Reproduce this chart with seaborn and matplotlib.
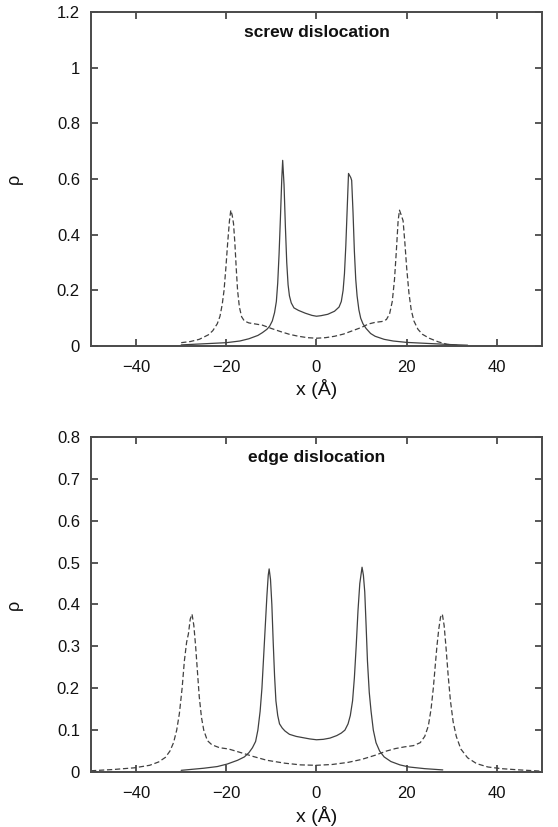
import numpy as np
import pandas as pd
import matplotlib
matplotlib.use("Agg")
import matplotlib.pyplot as plt
import seaborn as sns

# ---- data ----
screw_solid_x = [-30, -25, -20, -17, -15, -13, -12, -11, -10.4, -9.8, -9.3, -8.9, -8.6, -8.3, -8.0, -7.7, -7.5,
                 -7.2, -6.9, -6.6, -6.3, -6.0, -5.6, -5.0, -4.0, -2.5, -1.0, 0.0, 1.0, 2.5, 4.0, 5.0, 5.5, 5.9,
                 6.2, 6.5, 6.8, 7.1, 7.6, 7.8, 8.1, 8.4, 8.7, 9.0, 9.4, 9.8, 10.3, 11, 12, 13, 15, 17, 20, 25,
                 30, 33.5]
screw_solid_y = [0.004, 0.008, 0.012, 0.018, 0.026, 0.038, 0.048, 0.060, 0.071, 0.090, 0.120, 0.160, 0.226,
                 0.330, 0.460, 0.600, 0.667, 0.580, 0.430, 0.300, 0.220, 0.180, 0.155, 0.137, 0.128, 0.118,
                 0.110, 0.107, 0.109, 0.114, 0.125, 0.140, 0.160, 0.200, 0.260, 0.360, 0.490, 0.620, 0.605,
                 0.595, 0.480, 0.340, 0.240, 0.180, 0.130, 0.100, 0.080, 0.063, 0.045, 0.035, 0.024, 0.018,
                 0.013, 0.009, 0.005, 0.003]
screw_dash_x = [-30, -28, -26, -24, -23, -22, -21.4, -20.9, -20.5, -20.1, -19.7, -19.3, -19.0, -18.7, -18.4,
                -18.1, -17.8, -17.5, -17.1, -16.6, -16, -15, -13.5, -12, -10, -8, -6, -4, -2, 0, 2, 4, 6, 8,
                10, 11.5, 13, 14.5, 15.5, 16.2, 16.8, 17.3, 17.7, 18.1, 18.4, 18.8, 19.2, 19.6, 20.0, 20.5,
                21.0, 21.6, 22.5, 23.5, 25, 27, 29, 31.5]
screw_dash_y = [0.012, 0.016, 0.024, 0.040, 0.055, 0.080, 0.107, 0.150, 0.200, 0.280, 0.370, 0.450, 0.488,
                0.470, 0.440, 0.370, 0.280, 0.200, 0.140, 0.105, 0.090, 0.083, 0.079, 0.075, 0.063, 0.052,
                0.042, 0.035, 0.030, 0.028, 0.030, 0.035, 0.043, 0.055, 0.067, 0.079, 0.085, 0.088, 0.095,
                0.115, 0.160, 0.240, 0.340, 0.450, 0.488, 0.470, 0.450, 0.370, 0.280, 0.190, 0.130, 0.090,
                0.060, 0.042, 0.028, 0.015, 0.006, 0.002]

edge_solid_x = [-30, -25, -22, -19.8, -17.5, -16, -15, -14.2, -13.5, -13, -12.5, -12.1, -11.7, -11.3, -11,
                -10.7, -10.5, -10.2, -9.9, -9.6, -9.3, -9.0, -8.6, -8.2, -7.6, -7, -6, -4.5, -3, -1.5, 0, 1.5,
                3, 4.5, 5.5, 6.3, 7, 7.5, 8, 8.4, 8.8, 9.2, 9.6, 10.1, 10.4, 10.7, 11.0, 11.3, 11.7, 12.1,
                12.6, 13.2, 14, 15, 16.5, 18.5, 20.5, 24, 28]
edge_solid_y = [0.004, 0.009, 0.013, 0.019, 0.028, 0.036, 0.046, 0.058, 0.073, 0.100, 0.145, 0.200, 0.280,
                0.360, 0.420, 0.470, 0.485, 0.460, 0.400, 0.310, 0.230, 0.170, 0.135, 0.115, 0.105, 0.098,
                0.090, 0.085, 0.082, 0.079, 0.077, 0.078, 0.081, 0.087, 0.093, 0.100, 0.115, 0.135, 0.170,
                0.225, 0.300, 0.385, 0.450, 0.489, 0.470, 0.430, 0.350, 0.265, 0.190, 0.145, 0.100, 0.070,
                0.050, 0.036, 0.025, 0.017, 0.012, 0.008, 0.005]
edge_dash_x = [-50, -45, -40.4, -37, -35, -33.5, -32.5, -31.7, -31.0, -30.4, -29.8, -29.3, -28.8, -28.4, -28.0,
               -27.6, -27.2, -26.8, -26.4, -26, -25.5, -25, -24.2, -23.2, -21.5, -19.5, -17, -14, -11, -7,
               -3.5, 0, 3.5, 7, 10, 13, 15.5, 17.5, 19.5, 21.5, 23, 24, 24.8, 25.4, 25.9, 26.3, 26.7, 27.1,
               27.5, 27.9, 28.3, 28.7, 29.2, 29.7, 30.3, 31, 32, 33.5, 35.5, 38, 41, 45, 50]
edge_dash_y = [0.003, 0.006, 0.010, 0.016, 0.024, 0.035, 0.050, 0.070, 0.100, 0.140, 0.200, 0.265, 0.310,
               0.330, 0.365, 0.377, 0.350, 0.300, 0.240, 0.180, 0.130, 0.100, 0.075, 0.065, 0.058, 0.055,
               0.047, 0.037, 0.028, 0.021, 0.017, 0.016, 0.018, 0.023, 0.030, 0.040, 0.050, 0.056, 0.060,
               0.063, 0.070, 0.085, 0.110, 0.150, 0.200, 0.250, 0.300, 0.340, 0.370, 0.377, 0.350, 0.300,
               0.230, 0.170, 0.120, 0.085, 0.055, 0.034, 0.020, 0.012, 0.008, 0.005, 0.002]

x_ticks = [-40, -20, 0, 20, 40]
x_ticklabels = ["\u221240", "\u221220", "0", "20", "40"]
screw_yticks = [0, 0.2, 0.4, 0.6, 0.8, 1.0, 1.2]
screw_ylabels = ["0", "0.2", "0.4", "0.6", "0.8", "1", "1.2"]
edge_yticks = [0, 0.1, 0.2, 0.3, 0.4, 0.5, 0.6, 0.7, 0.8]
edge_ylabels = ["0", "0.1", "0.2", "0.3", "0.4", "0.5", "0.6", "0.7", "0.8"]

sns.set_style("ticks")
plt.rcParams['font.family'] = ['Liberation Sans', 'DejaVu Sans']

fig = plt.figure(figsize=(5.58, 8.27), dpi=100)
ax1 = fig.add_axes([0.1631, 0.5816, 0.8082, 0.4039])
ax2 = fig.add_axes([0.1631, 0.0665, 0.8082, 0.4051])

line_color = "#404040"
spine_color = "#4a4a4a"
text_color = "#111111"

def draw(ax, sx, sy, dx, dy, title, yticks, ylabels, ymax):
    sns.lineplot(x=sx, y=sy, ax=ax, color=line_color, lw=0.9, sort=False)
    sns.lineplot(x=dx, y=dy, ax=ax, color=line_color, lw=0.9, sort=False,
                 linestyle=(0, (4.2, 2.2)))
    ax.set_xlim(-50, 50)
    ax.set_ylim(0, ymax)
    ax.set_xticks(x_ticks)
    ax.set_xticklabels(x_ticklabels)
    ax.set_yticks(yticks)
    ax.set_yticklabels(ylabels)
    ax.tick_params(direction="in", length=5, width=1.3, color=spine_color,
                   top=True, right=True, labelsize=12, labelcolor=text_color)
    ax.tick_params(axis="y", pad=8)
    ax.tick_params(axis="x", pad=10)
    for s in ax.spines.values():
        s.set_color(spine_color)
        s.set_linewidth(1.4)
    ax.set_xlabel("x (Å)", fontsize=14, color=text_color)
    ax.xaxis.set_label_coords(0.5, -0.100)
    ax.set_ylabel("ρ", fontsize=13, color=text_color)
    ax.yaxis.set_label_coords(-0.150, 0.5)
    ax.text(0.0, ymax * 0.94, title, ha="center", va="center", fontsize=12.5,
            fontweight="bold", color=text_color)

draw(ax1, screw_solid_x, screw_solid_y, screw_dash_x, screw_dash_y,
     "screw dislocation", screw_yticks, screw_ylabels, 1.2)
draw(ax2, edge_solid_x, edge_solid_y, edge_dash_x, edge_dash_y,
     "edge dislocation", edge_yticks, edge_ylabels, 0.8)

fig.savefig("out.png", dpi=100)
